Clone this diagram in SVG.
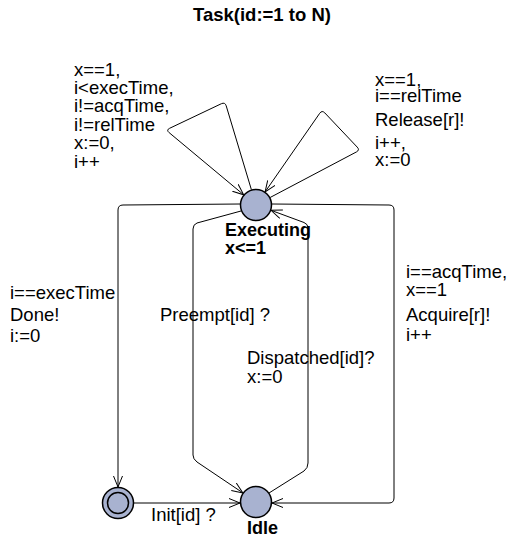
<svg xmlns="http://www.w3.org/2000/svg" width="508" height="540" viewBox="0 0 508 540">
<defs>
<marker id="arr" markerUnits="userSpaceOnUse" markerWidth="14" markerHeight="12" refX="11" refY="5" orient="auto">
<path d="M0,0.5 L11,5 L0,9.5" fill="none" stroke="#000" stroke-width="1"/>
</marker>
</defs>
<style>
.loc{fill:#a8b2d0;stroke:#000;stroke-width:1.5}
.e{fill:none;stroke:#000;stroke-width:1;marker-end:url(#arr)}
.t{font-family:"Liberation Sans",Arial,sans-serif;font-size:18.5px;fill:#000}
.b{font-family:"Liberation Sans",Arial,sans-serif;font-size:18px;font-weight:bold;fill:#000}
.title{font-family:"Liberation Sans",Arial,sans-serif;font-size:18.5px;font-weight:bold;fill:#000}
</style>
<rect width="508" height="540" fill="#fff"/>
<text class="title" x="193" y="21">Task(id:=1 to N)</text>
<g id="connectors">
<path class="e" d="M134,503 L240,503"/>
<path class="e" d="M240,204 L123,205 Q118,205 118,210 L118,487"/>
<path class="e" d="M272,204 L389,205 Q394,205 394,210 L394,498 Q394,503 389,503 L272,503"/>
<path class="e" d="M241,211 L197,223 Q193,224.5 193,229 L193,455 Q193,459 197,462 L242.9,492.9"/>
<path class="e" d="M269,493 L304,471 Q308,468 308,463 L308,228 Q308,224 304,222.5 L271,210.3"/>
<path class="e" d="M251.4,189.7 L226.2,105.8 Q225,102 221.4,103.7 L169.6,128.3 Q166,130 169.1,132.6 L243.7,194.8"/>
<path class="e" d="M270.1,197.5 L356.5,151.9 Q360,150 357.2,147.1 L324.8,112.9 Q322,110 319.7,113.3 L265.1,191.9"/>
<g id="labels">
<text class="t" x="74" y="76">x==1,</text>
<text class="t" x="74" y="94">i&lt;execTime,</text>
<text class="t" x="74" y="112">i!=acqTime,</text>
<text class="t" x="74" y="131">i!=relTime</text>
<text class="t" x="74" y="149">x:=0,</text>
<text class="t" x="74" y="168">i++</text>
<text class="t" x="375" y="86">x==1,</text>
<text class="t" x="375" y="102">i==relTime</text>
<text class="t" x="375" y="126">Release[r]!</text>
<text class="t" x="375" y="149">i++,</text>
<text class="t" x="375" y="166">x:=0</text>
<text class="t" x="10" y="299">i==execTime</text>
<text class="t" x="10" y="321">Done!</text>
<text class="t" x="10" y="342">i:=0</text>
<text class="t" x="160" y="321">Preempt[id] ?</text>
<text class="t" x="406" y="278">i==acqTime,</text>
<text class="t" x="406" y="296">x==1</text>
<text class="t" x="406" y="321">Acquire[r]!</text>
<text class="t" x="406" y="341">i++</text>
<text class="t" x="247" y="364">Dispatched[id]?</text>
<text class="t" x="247" y="383">x:=0</text>
<text class="t" x="151" y="521">Init[id] ?</text>
</g>
</g>
<g id="executing">
<circle class="loc" cx="256" cy="205" r="15.5"/>
<text class="b" x="225" y="236">Executing</text>
<text class="b" x="225" y="254">x&lt;=1</text>
</g>
<g id="idle">
<circle class="loc" cx="256" cy="502" r="15.5"/>
<text class="b" x="247" y="534">Idle</text>
</g>
<g id="init">
<circle class="loc" cx="118" cy="503" r="15.5"/>
<circle cx="118" cy="503" r="10.5" fill="none" stroke="#000" stroke-width="1.5"/>
</g>
</svg>
